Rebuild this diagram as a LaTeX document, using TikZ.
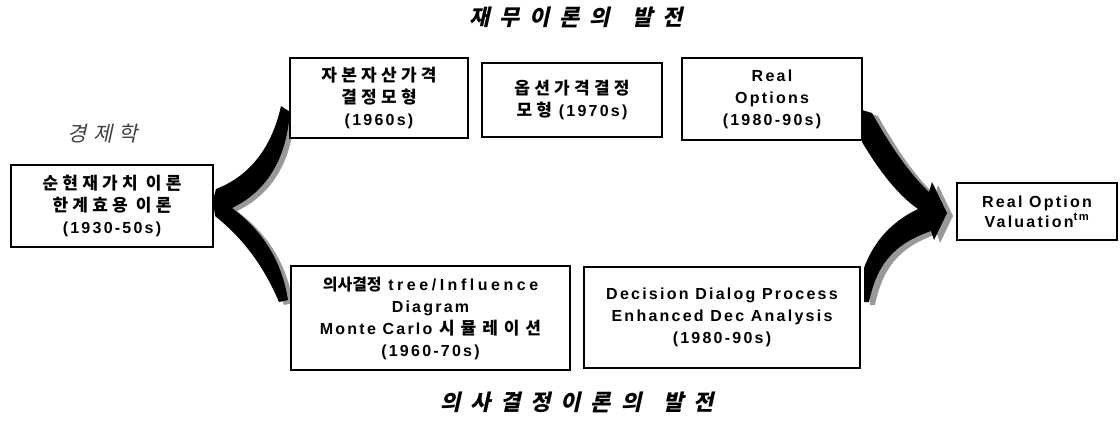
\documentclass[tikz,border=0pt]{standalone}
\usepackage{fontspec}
\setmainfont{Liberation Sans}
\newfontfamily\lat{Liberation Sans}[LetterSpace=14]
\newfontfamily\latw{Liberation Sans}[LetterSpace=22]
\newfontfamily\kr{Noto Sans CJK KR}[LetterSpace=25]
\newfontfamily\krn{Noto Sans CJK KR}
\newfontfamily\krw{Noto Sans CJK KR}[LetterSpace=35]
\newfontfamily\krt{Noto Sans CJK KR}[LetterSpace=45,FakeSlant=0.22]
\newfontfamily\krl{Noto Sans CJK KR}[LetterSpace=30,FakeSlant=0.22]
\newcommand{\K}[1]{{\kr\fontsize{17}{22}\selectfont #1}}
\newcommand{\Kn}[1]{{\krn\fontsize{16}{22}\selectfont #1}}
\newcommand{\Kw}[1]{{\krw\fontsize{17}{22}\selectfont #1}}
\usetikzlibrary{patterns}
\tikzset{
  box/.style={draw, line width=1.6pt, fill=white, align=center, inner sep=0pt,
    font=\lat\bfseries\fontsize{16}{22}\selectfont},
  title/.style={font=\krt\bfseries\fontsize{22}{26}\selectfont},
  bigarrow/.style={fill=black},
  arrowshade/.style={fill=black!40}
}
\begin{document}
\begin{tikzpicture}[x=1pt,y=-1pt]
\useasboundingbox (0,0) rectangle (1120,424);
% left chevron: shadow then body
\begin{scope}[shift={(5,3)}]
\fill[arrowshade] (281,106) .. controls (272,147) and (250,176) .. (216,189)
 -- (213,200) -- (215,216)
 .. controls (240,236) and (262,262) .. (279,302)
 -- (288,300)
 .. controls (282,262) and (264,232) .. (232,208)
 .. controls (265,192) and (286,162) .. (290,112) -- cycle;
\end{scope}
\fill[bigarrow] (281,106) .. controls (272,147) and (250,176) .. (216,189)
 -- (213,200) -- (215,216)
 .. controls (240,236) and (262,262) .. (279,302)
 -- (288,300)
 .. controls (282,262) and (264,232) .. (232,208)
 .. controls (265,192) and (286,162) .. (290,112) -- cycle;
% right arrow: shadow then body
\begin{scope}[shift={(6,3)}]
\fill[arrowshade] (862,110) -- (872,113)
 .. controls (890,145) and (908,172) .. (929,192)
 -- (932,182) -- (947,213) -- (934,240) -- (931,231)
 .. controls (900,242) and (878,258) .. (869,302)
 -- (864,302) -- (864,268)
 .. controls (875,238) and (895,220) .. (918,209)
 .. controls (898,195) and (880,172) .. (862,142) -- cycle;
\end{scope}
\fill[bigarrow] (862,110) -- (872,113)
 .. controls (890,145) and (908,172) .. (929,192)
 -- (932,182) -- (947,213) -- (934,240) -- (931,231)
 .. controls (900,242) and (878,258) .. (869,302)
 -- (864,302) -- (864,268)
 .. controls (875,238) and (895,220) .. (918,209)
 .. controls (898,195) and (880,172) .. (862,142) -- cycle;
% titles
\node[title] (t1) at (576,17) {재무이론의\hspace{22pt}발전};
\node[title] (t2) at (577,402) {의사결정이론의\hspace{22pt}발전};
\node[font=\krl\fontsize{21}{24}\selectfont, text=black!75] (econ) at (103,134) {경제학};
% boxes
\node[box, minimum width=202pt, minimum height=82pt] (npv) at (112,206)
  {\K{순현재가치 이론}\\\K{한계효용 이론}\\(1930-50s)};
\node[box, minimum width=178pt, minimum height=80pt] (capm) at (379,98)
  {\K{자본자산가격}\\\K{결정모형}\\(1960s)};
\node[box, minimum width=180pt, minimum height=74pt] (opm) at (572,100)
  {\K{옵션가격결정}\\\K{모형} (1970s)};
\node[box, minimum width=180pt, minimum height=82pt] (ro) at (772,99)
  {Real\\Options\\(1980-90s)};
\node[box, minimum width=279pt, minimum height=104pt] (dt) at (430.5,318)
  {\Kn{의사결정} {\latw tree/Influence}\\Diagram\\Monte Carlo \Kw{시뮬레이션}\\(1960-70s)};
\node[box, minimum width=276pt, minimum height=101pt] (dd) at (722,317.5)
  {Decision Dialog Process\\Enhanced Dec Analysis\\(1980-90s)};
\node[box, minimum width=160pt, minimum height=57pt,
  font=\lat\bfseries\fontsize{16}{20}\selectfont] (rov) at (1037,211.5)
  {Real Option\\Valuation\textsuperscript{tm}};
\end{tikzpicture}
\end{document}
